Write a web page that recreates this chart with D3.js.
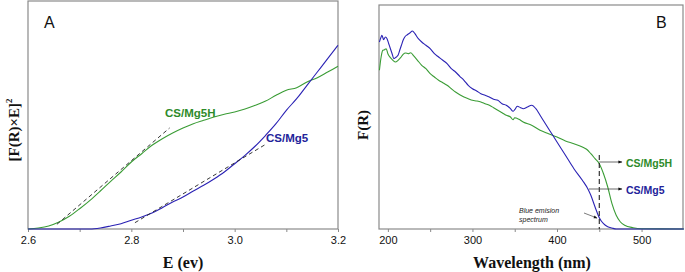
<!DOCTYPE html>
<html>
<head>
<meta charset="utf-8">
<script src="https://cdn.jsdelivr.net/npm/d3@7"></script>
<style>
  body { margin: 0; background: #fff; }
  svg { display: block; }
  .tick text { font-family: Arial, "Liberation Sans", sans-serif; font-size: 11px; fill: #111; }
</style>
</head>
<body>
<div id="chart"></div>
<script>
// Panel A: Tauc plot, [F(R)xE]^2 (arbitrary units) vs energy
const energyEv = [2.60, 2.62, 2.64, 2.66, 2.68, 2.70, 2.72, 2.74, 2.76, 2.78, 2.80, 2.82, 2.84, 2.86, 2.88, 2.90,
  2.92, 2.94, 2.96, 2.98, 3.00, 3.02, 3.04, 3.06, 3.08, 3.10, 3.12, 3.14, 3.16, 3.18, 3.20];
const taucMg5H = [0, 1, 3, 7, 12.7, 20.3, 28.7, 38, 47.7, 57, 67, 75.3, 83.7, 90.3, 96, 101,
  105.3, 108.7, 112, 114.7, 117, 120, 123.7, 128, 133.7, 138.7, 141.3, 147, 151.3, 157, 162.7];
const taucMg5 = [0, 0, 0, 0, 0, 0, 0, 1, 3, 5.3, 8.7, 12, 16, 21.3, 27, 32,
  38, 43.7, 50, 57, 65.3, 73.7, 83, 93.7, 105.3, 118.7, 130.3, 143.7, 157, 170.3, 183.7];
// tangent (band-gap extrapolation) segments: [x1, y1, x2, y2]
const tangentMg5H = [2.656, 4.7, 2.874, 101];
const tangentMg5 = [2.807, 6.3, 3.062, 85.3];
const ticksA = [2.6, 2.8, 3.0, 3.2];
const minorTicksA = [2.7, 2.9, 3.1];

// Panel B: F(R) vs wavelength
const wlMg5 = [190, 192, 193, 195, 197, 199, 201, 203, 205, 207, 210, 212, 214, 216, 218, 220, 223, 226, 229, 232,
  236, 240, 245, 250, 255, 260, 265, 270, 275, 280, 285, 290, 295, 300, 305, 310, 315, 320, 325, 330, 335, 340,
  345, 348, 350, 353, 357, 360, 365, 370, 375, 380, 385, 390, 395, 400, 410, 420, 430, 437, 440, 445, 450, 455,
  460, 465, 470, 550];
const frMg5 = [187, 192, 193.7, 189.3, 192, 190.3, 185.3, 180.3, 175.3, 170.3, 172, 173.7, 178.7, 183.7, 188.7, 192,
  194.3, 196, 198, 195.3, 190.3, 187, 183.7, 180.3, 175.3, 172, 168.7, 165.3, 160.3, 157, 152.7, 148.7, 143.7,
  140.3, 138, 135.3, 133.7, 132, 129.7, 128.7, 125.3, 123.7, 120.3, 117.7, 119.3, 122.7, 121.3, 120.3, 122,
  123.7, 120.3, 113.7, 107, 100.3, 93.7, 87, 73.7, 60.3, 48.7, 39.3, 33.7, 22, 11.3, 5.3, 2.3, 1, 0, 0];
const wlMg5H = [190, 192, 194, 196, 198, 200, 203, 206, 209, 212, 215, 218, 221, 224, 227, 230, 235, 240, 245,
  250, 255, 260, 265, 270, 275, 280, 285, 290, 295, 300, 305, 310, 315, 320, 325, 330, 335, 340, 345, 348, 350,
  355, 360, 370, 380, 390, 400, 410, 420, 430, 435, 440, 445, 450, 455, 460, 465, 470, 475, 480, 490, 500, 550];
const frMg5H = [158.7, 172, 178.7, 179.3, 180.3, 175.3, 171.3, 168.7, 167, 168.7, 171.3, 174.7, 176, 175.3, 176.3,
  173.7, 168.7, 163.7, 160.3, 155.3, 152, 148.7, 146.3, 143.7, 140.3, 137, 134.3, 132, 130.3, 128.7, 128, 127,
  125.3, 123.7, 121.3, 118.7, 116.3, 113.7, 112, 109.3, 111.3, 109.7, 107, 103.7, 98.7, 95.3, 92, 88, 85.3, 82,
  79.7, 75.3, 70.3, 65.3, 55.3, 42, 25.3, 13.7, 7, 3.7, 1.3, 0.3, 0];
const ticksB = [200, 300, 400, 500];
const minorTicksB = [250, 350, 450];
const emissionWl = 450;

const colors = { green: "#3a9c35", blue: "#2a22b4", labelGreen: "#2e8b2a", labelBlue: "#23239a", frame: "#8a8a8a" };
const serif = "'Liberation Serif', 'DejaVu Serif', serif";
const sans = "Arial, 'Liberation Sans', sans-serif";

const svg = d3.select("#chart").append("svg").attr("width", 685).attr("height", 272);

function drawPanel(o) {
  const x = d3.scaleLinear().domain(o.xDomain).range([o.left, o.right]);
  const y = d3.scaleLinear().domain(o.yDomain).range([o.bottom, o.top]);
  const g = svg.append("g");

  // minor ticks
  g.append("g").attr("transform", `translate(0,${o.bottom})`)
    .call(d3.axisBottom(x).tickValues(o.minor).tickSize(3).tickFormat(""))
    .call(a => a.select(".domain").remove())
    .call(a => a.selectAll("line").attr("stroke", colors.frame));

  g.append("g").attr("transform", `translate(0,${o.bottom})`)
    .call(d3.axisBottom(x).tickValues(o.ticks).tickSize(3).tickPadding(4).tickFormat(o.fmt))
    .call(a => a.select(".domain").remove())
    .call(a => a.selectAll("line").attr("stroke", colors.frame));

  // frame
  g.append("rect")
    .attr("x", o.left).attr("y", o.top)
    .attr("width", o.right - o.left).attr("height", o.bottom - o.top)
    .attr("fill", "none").attr("stroke", colors.frame).attr("stroke-width", 1.2);

  const line = d3.line().x(d => x(d[0])).y(d => y(d[1])).curve(d3.curveMonotoneX);
  o.series.forEach(s => {
    g.append("path").datum(d3.zip(s.x, s.y))
      .attr("fill", "none").attr("stroke", s.color).attr("stroke-width", 1.1)
      .attr("d", line);
  });

  return { x, y, g };
}

// ---- Panel A
const A = drawPanel({
  left: 28, right: 338, top: 1, bottom: 229,
  xDomain: [2.6, 3.2], yDomain: [0, 228],
  ticks: ticksA, minor: minorTicksA, fmt: d3.format(".1f"),
  series: [
    { x: energyEv, y: taucMg5H, color: colors.green },
    { x: energyEv, y: taucMg5, color: colors.blue }
  ]
});

[tangentMg5H, tangentMg5].forEach(t => {
  A.g.append("line")
    .attr("x1", A.x(t[0])).attr("y1", A.y(t[1]))
    .attr("x2", A.x(t[2])).attr("y2", A.y(t[3]))
    .attr("stroke", "#222").attr("stroke-width", 0.9).attr("stroke-dasharray", "4,3");
});

A.g.append("text").attr("x", 44).attr("y", 28).text("A")
  .attr("font-family", sans).attr("font-size", 16).attr("fill", "#111");
A.g.append("text").attr("x", 165).attr("y", 117).text("CS/Mg5H")
  .attr("font-family", sans).attr("font-size", 11.5).attr("font-weight", "bold").attr("fill", colors.labelGreen);
A.g.append("text").attr("x", 266).attr("y", 142).text("CS/Mg5")
  .attr("font-family", sans).attr("font-size", 11.5).attr("font-weight", "bold").attr("fill", colors.labelBlue);

A.g.append("text").attr("x", 183).attr("y", 268).attr("text-anchor", "middle")
  .attr("font-family", serif).attr("font-size", 16).attr("font-weight", "bold").attr("fill", "#111")
  .text("E (ev)");
const ylabA = A.g.append("text")
  .attr("transform", "translate(19,130) rotate(-90)").attr("text-anchor", "middle")
  .attr("font-family", serif).attr("font-size", 15).attr("font-weight", "bold").attr("fill", "#111");
ylabA.append("tspan").text("[F(R)×E]");
ylabA.append("tspan").attr("dy", -7).attr("font-size", 9).text("2");

// ---- Panel B
const B = drawPanel({
  left: 379, right: 683, top: 5, bottom: 229,
  xDomain: [189.5, 549], yDomain: [0, 224],
  ticks: ticksB, minor: minorTicksB, fmt: d3.format("d"),
  series: [
    { x: wlMg5H, y: frMg5H, color: colors.green },
    { x: wlMg5, y: frMg5, color: colors.blue }
  ]
});

const defs = svg.append("defs");
defs.append("marker").attr("id", "arr").attr("viewBox", "0 0 10 10")
  .attr("refX", 9).attr("refY", 5).attr("markerWidth", 6).attr("markerHeight", 5).attr("orient", "auto")
  .append("path").attr("d", "M0,1 L10,5 L0,9 Z").attr("fill", "#111");

const xe = B.x(emissionWl);
B.g.append("line").attr("x1", xe).attr("x2", xe).attr("y1", 155).attr("y2", 229)
  .attr("stroke", "#222").attr("stroke-width", 1.1).attr("stroke-dasharray", "5,3");

B.g.append("line").attr("x1", xe).attr("y1", 162).attr("x2", 622).attr("y2", 162)
  .attr("stroke", "#444").attr("stroke-width", 0.8).attr("marker-end", "url(#arr)");
B.g.append("line").attr("x1", 589).attr("y1", 189).attr("x2", 622).attr("y2", 189)
  .attr("stroke", "#444").attr("stroke-width", 0.8).attr("marker-end", "url(#arr)");
B.g.append("line").attr("x1", 584).attr("y1", 213).attr("x2", 597).attr("y2", 218)
  .attr("stroke", "#444").attr("stroke-width", 0.7).attr("marker-end", "url(#arr)");

B.g.append("text").attr("x", 626).attr("y", 167).text("CS/Mg5H")
  .attr("font-family", sans).attr("font-size", 10.5).attr("font-weight", "bold").attr("fill", colors.labelGreen);
B.g.append("text").attr("x", 626).attr("y", 194).text("CS/Mg5")
  .attr("font-family", sans).attr("font-size", 10.5).attr("font-weight", "bold").attr("fill", colors.labelBlue);
B.g.append("text").attr("x", 519).attr("y", 213).text("Blue emision")
  .attr("font-family", sans).attr("font-size", 7).attr("font-style", "italic").attr("fill", "#222");
B.g.append("text").attr("x", 519).attr("y", 222).text("spectrum")
  .attr("font-family", sans).attr("font-size", 7).attr("font-style", "italic").attr("fill", "#222");

B.g.append("text").attr("x", 656).attr("y", 28).text("B")
  .attr("font-family", sans).attr("font-size", 16).attr("fill", "#111");

B.g.append("text").attr("x", 532).attr("y", 268).attr("text-anchor", "middle")
  .attr("font-family", serif).attr("font-size", 16).attr("font-weight", "bold").attr("fill", "#111")
  .text("Wavelength (nm)");
B.g.append("text").attr("transform", "translate(368,125) rotate(-90)").attr("text-anchor", "middle")
  .attr("font-family", serif).attr("font-size", 15).attr("font-weight", "bold").attr("fill", "#111")
  .text("F(R)");
</script>
</body>
</html>
